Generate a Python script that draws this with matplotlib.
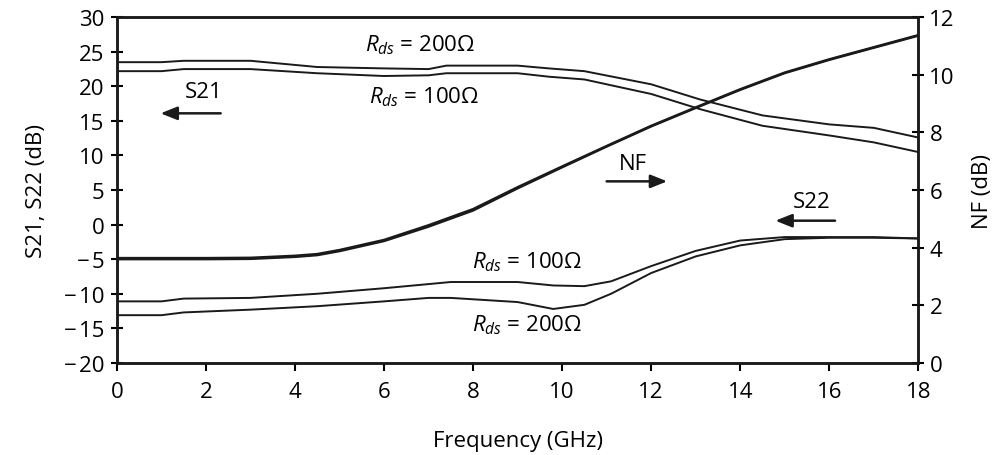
import matplotlib.pyplot as plt

# values
freq_s21 = [0, 1, 1.5, 3, 4.5, 6, 7, 7.4, 9, 9.7, 10.5, 12, 13.1, 14.5, 16, 17, 18]
s21_200 = [23.5, 23.5, 23.7, 23.7, 22.8, 22.6, 22.5, 23.0, 23.0, 22.6, 22.2, 20.3, 18.1, 15.8, 14.5, 14.0, 12.6]
s21_100 = [22.2, 22.2, 22.5, 22.5, 21.9, 21.5, 21.6, 21.9, 21.9, 21.4, 21.0, 18.9, 16.7, 14.3, 12.9, 11.9, 10.5]

freq_s22 = [0, 1, 1.5, 3, 4.5, 6, 7, 7.5, 9, 9.8, 10.5, 11.1, 12, 13, 14, 15, 16, 17, 18]
s22_100 = [-11.1, -11.1, -10.7, -10.6, -10.0, -9.2, -8.6, -8.3, -8.3, -8.8, -8.9, -8.2, -6.0, -3.8, -2.3, -1.8, -1.8, -1.8, -2.0]
s22_200 = [-13.1, -13.1, -12.7, -12.3, -11.8, -11.1, -10.6, -10.6, -11.2, -12.2, -11.6, -10.0, -7.0, -4.6, -3.0, -2.1, -1.9, -1.9, -2.0]

freq_nf = [0, 1, 2, 3, 4, 4.5, 5, 6, 7, 8, 9, 10, 11, 12, 13, 14, 15, 16, 17, 18]
nf_100 = [3.64, 3.64, 3.64, 3.65, 3.72, 3.78, 3.92, 4.27, 4.78, 5.34, 6.1, 6.82, 7.53, 8.23, 8.87, 9.5, 10.08, 10.54, 10.96, 11.38]
nf_200 = [3.60, 3.60, 3.60, 3.61, 3.68, 3.74, 3.88, 4.23, 4.73, 5.29, 6.06, 6.79, 7.51, 8.21, 8.85, 9.48, 10.06, 10.52, 10.94, 11.36]

s_ticks = [-20, -15, -10, -5, 0, 5, 10, 15, 20, 25, 30]
s_labels = ['\u2212\u200a20', '\u2212\u200a15', '\u2212\u200a10', '\u2212\u200a5', '0', '5', '10', '15', '20', '25', '30']

plt.rcParams['font.family'] = ['Open Sans', 'DejaVu Sans']
plt.rcParams['mathtext.fontset'] = 'custom'
plt.rcParams['mathtext.it'] = 'Open Sans:italic'
plt.rcParams['mathtext.rm'] = 'Open Sans'

fig = plt.figure(figsize=(10.08, 4.56), dpi=100)
ax = fig.add_axes([0.116, 0.202, 0.795, 0.758])
ax2 = ax.twinx()

lw = 1.4
ax.plot(freq_s21, s21_200, color='#1a1a1a', lw=lw)
ax.plot(freq_s21, s21_100, color='#1a1a1a', lw=lw)
ax.plot(freq_s22, s22_100, color='#1a1a1a', lw=lw)
ax.plot(freq_s22, s22_200, color='#1a1a1a', lw=lw)
ax2.plot(freq_nf, nf_100, color='#1a1a1a', lw=1.7)
ax2.plot(freq_nf, nf_200, color='#1a1a1a', lw=1.7)

ax.set_xlim(0, 18)
ax.set_ylim(-20, 30)
ax2.set_ylim(0, 12)
ax.set_xticks(range(0, 19, 2))
ax.set_yticks(s_ticks, s_labels)
ax2.set_yticks(range(0, 13, 2))

for a in (ax, ax2):
    for s in a.spines.values():
        s.set_linewidth(1.8)
        s.set_color('#1a1a1a')
ax.tick_params(axis='y', direction='inout', length=8, width=1.5, labelsize=16, pad=5)
ax.tick_params(axis='x', direction='out', length=6, width=1.5, labelsize=16, pad=7)
ax2.tick_params(axis='y', direction='inout', length=8, width=1.5, labelsize=16, pad=4)

ax.set_xlabel('Frequency (GHz)', fontsize=16, labelpad=20)
ax.set_ylabel('S21, S22 (dB)', fontsize=16, labelpad=12)
ax2.set_ylabel('NF (dB)', fontsize=16, labelpad=12)

fs = 16
ax.text(6.8, 26.1, r'$R_{ds}$ = 200Ω', fontsize=fs, ha='center', va='center')
ax.text(6.9, 18.6, r'$R_{ds}$ = 100Ω', fontsize=fs, ha='center', va='center')
ax.text(9.2, -5.3, r'$R_{ds}$ = 100Ω', fontsize=fs, ha='center', va='center')
ax.text(9.2, -14.4, r'$R_{ds}$ = 200Ω', fontsize=fs, ha='center', va='center')
ax.text(1.95, 19.3, 'S21', fontsize=fs, ha='center', va='center')
ax.text(11.6, 8.9, 'NF', fontsize=fs, ha='center', va='center')
ax.text(15.6, 3.4, 'S22', fontsize=fs, ha='center', va='center')

arrow = dict(arrowstyle='-|>,head_length=1.0,head_width=0.4', color='#1a1a1a', lw=1.8,
             shrinkA=0, shrinkB=0)
ax.annotate('', xy=(0.98, 16.1), xytext=(2.33, 16.1), arrowprops=arrow)
ax.annotate('', xy=(12.36, 6.26), xytext=(11.0, 6.26), arrowprops=arrow)
ax.annotate('', xy=(14.79, 0.57), xytext=(16.13, 0.57), arrowprops=arrow)

plt.savefig('out.png', dpi=100)
